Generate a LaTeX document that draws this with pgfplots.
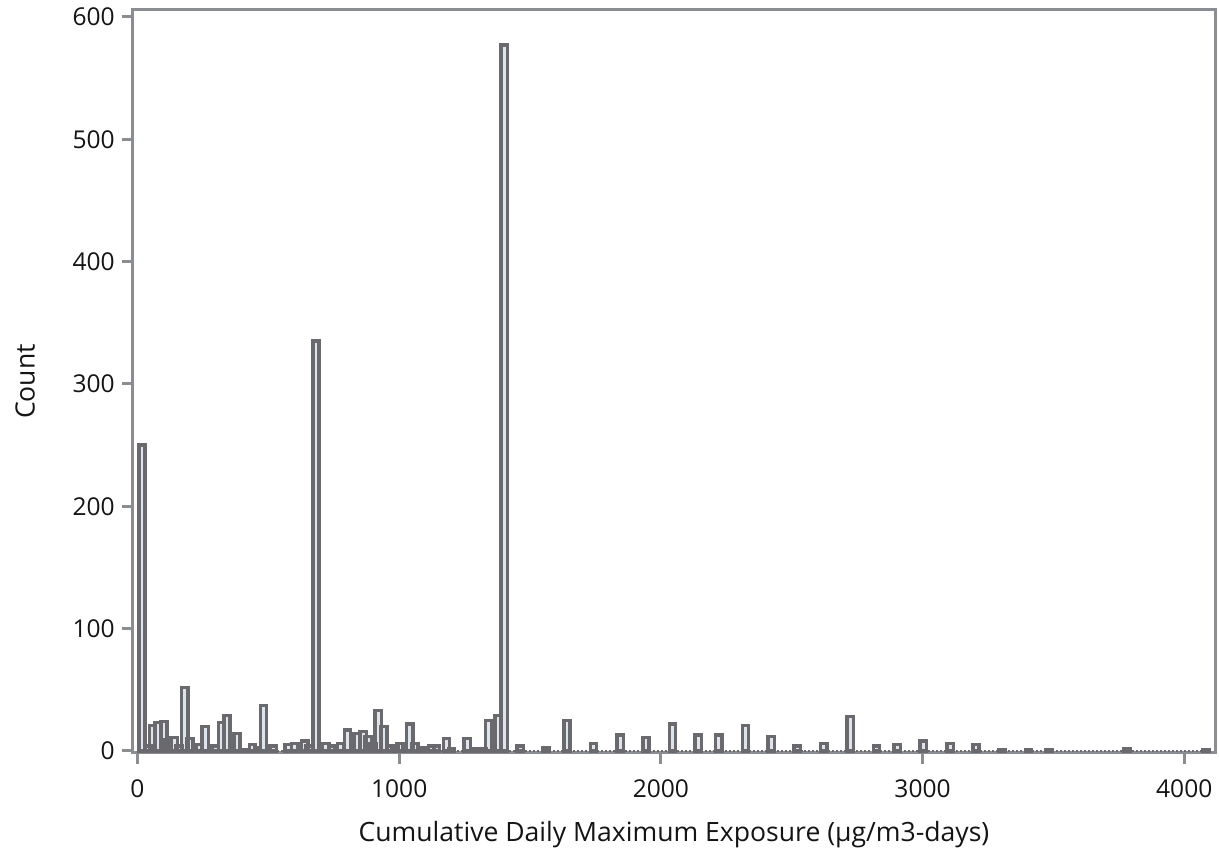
\documentclass[border=0pt]{standalone}
\usepackage{fontspec}
\setmainfont{Open Sans}
\usepackage{pgfplots}
\pgfplotsset{compat=1.18}
\definecolor{axisgray}{RGB}{138,141,145}
\definecolor{baredge}{RGB}{105,105,110}
\definecolor{barfill}{RGB}{222,228,236}
\definecolor{txt}{RGB}{20,20,20}
\begin{document}
\begin{tikzpicture}
\begin{axis}[
  scale only axis,
  width=542pt, height=372pt,
  xmin=-18, xmax=4118, ymin=-1.6, ymax=605.7,
  axis line style={axisgray, line width=1.5pt},
  xtick={0,1000,2000,3000,4000},
  ytick={0,100,200,300,400,500,600},
  xtick pos=bottom, ytick pos=left,
  tick align=outside,
  major tick length=5.5pt,
  tick style={axisgray, line width=1.5pt},
  /pgf/number format/assume math mode=true,
  /pgf/number format/1000 sep={},
  ticklabel style={font=\fontsize{12.3}{14}\selectfont, text=txt},
  xticklabel style={anchor=north, yshift=-4.5pt},
  yticklabel style={anchor=east},
  label style={font=\fontsize{13.3}{15}\selectfont, text=txt},
  xlabel={Cumulative Daily Maximum Exposure (µg/m3-days)},
  ylabel={Count},
  xlabel style={at={(axis description cs:0.5,-0.11)}, anchor=center},
  ylabel style={at={(axis description cs:-0.0995,0.5)}, anchor=center, rotate=0},
  clip=false,
]
\addplot[densely dotted, baredge, line width=1pt] coordinates {(0,0) (4100,0)};
\addplot[ybar, bar width=24, bar shift=0pt, draw=baredge, fill=barfill, line width=1.7pt] coordinates {
(17,250) (39,4) (57,21) (78,23) (100,24) (116,9) (140,11) (159,4) (181,52) (200,10)
(237,5) (259,20) (297,4) (321,23) (342,29) (380,14) (405,1) (439,5) (459,3) (481,37)
(519,4) (576,5) (601,6) (639,8) (656,4) (682,335) (720,6) (742,4) (777,6) (803,17)
(840,14) (862,16) (882,12) (901,6) (920,33) (941,20) (964,4) (984,4) (1002,6) (1041,22)
(1060,6) (1098,3) (1124,4) (1143,4) (1181,10) (1200,2) (1260,10) (1296,2) (1321,2) (1342,25)
(1378,29) (1401,577) (1462,4) (1561,3) (1641,25) (1742,6) (1844,13) (1943,11) (2044,22) (2143,13)
(2221,13) (2323,21) (2422,12) (2521,4) (2622,6) (2723,28) (2824,4) (2903,5) (3002,8) (3105,6)
(3204,5) (3303,1) (3405,1) (3483,1) (3782,2) (4082,1)
};
\coordinate (sw) at (rel axis cs:0,0);
\coordinate (ne) at (rel axis cs:1,1);
\end{axis}
\path ([shift={(-66.5pt,-52.5pt)}]sw) rectangle ([shift={(1pt,5pt)}]ne);
\end{tikzpicture}
\end{document}
